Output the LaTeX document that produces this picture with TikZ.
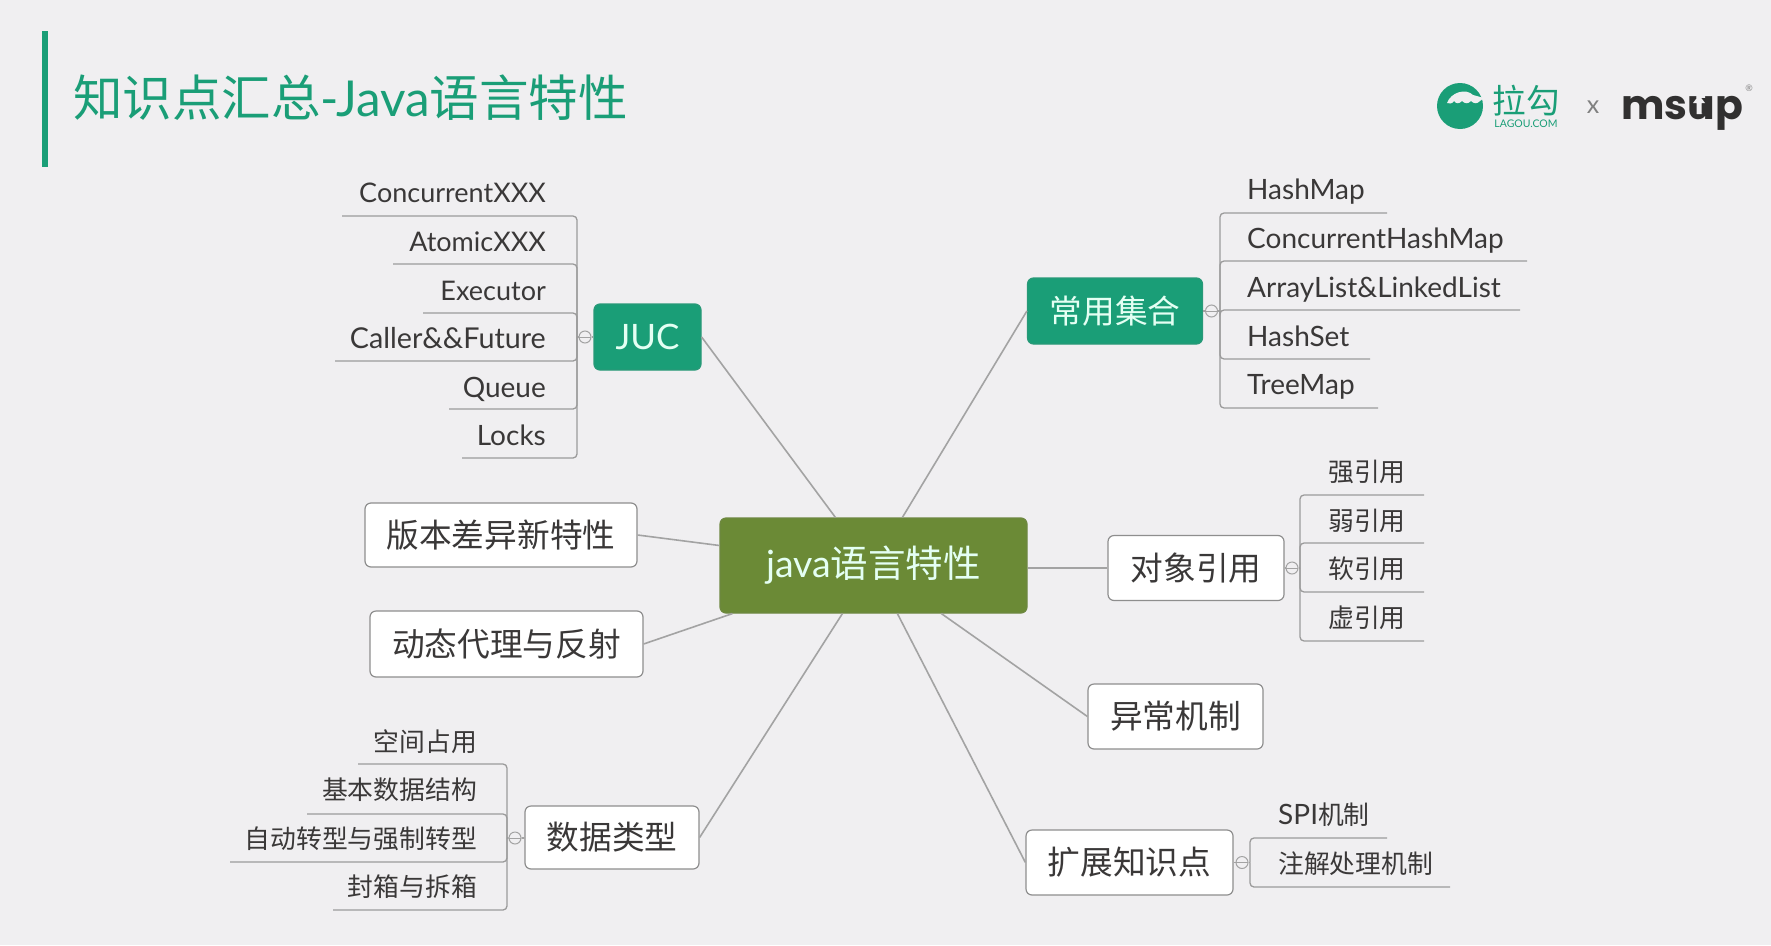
\documentclass[tikz,border=0pt]{standalone}
\usepackage{fontspec}
\usetikzlibrary{calc}
\setmainfont{Lato}
\newfontfamily\cjkf{Noto Sans CJK SC}
\newfontfamily\msupf{Poppins}[BoldFont={Poppins Bold}]
\definecolor{pagebg}{HTML}{F0EFF1}
\definecolor{lagougreen}{HTML}{1A9E77}
\definecolor{rootgreen}{HTML}{6B8A36}
\definecolor{linegray}{HTML}{9B9B9B}
\definecolor{edgegray}{HTML}{A3A3A3}
\definecolor{boxline}{HTML}{8E8E8E}
\definecolor{inkdark}{HTML}{3A3838}
\definecolor{palegreen}{HTML}{E4FFF3}
\tikzset{
  box/.style={draw=boxline,line width=1.2pt,rounded corners=6pt,inner sep=0pt,font=\fontsize{32.7}{35}\cjkf,text=inkdark},
  plainbox/.style={box,fill=white},
  greenbox/.style={box,fill=lagougreen,draw=lagougreen!85!gray,text=palegreen},
  rootbox/.style={box,fill=rootgreen,draw=rootgreen!85!gray,text=palegreen},
  leaf/.style={inner sep=0pt,text=inkdark,font=\fontsize{28}{30}\selectfont},
  leafx/.style={leaf,font=\fontsize{27}{30}\selectfont},
  leafcjk/.style={leaf,font=\fontsize{25.8}{28}\cjkf},
  branch/.style={draw=linegray,line width=1.3pt,rounded corners=4pt},
  edge/.style={draw=edgegray,line width=1.6pt},
  fold/.style={circle,draw=edgegray,fill=pagebg,line width=1pt,minimum size=12pt,inner sep=0pt,
    path picture={\draw[edgegray,line width=.8pt] (path picture bounding box.west) -- (path picture bounding box.east);}},
}
\newcommand{\Lbranch}[4]{% bus, left x, line y, name
  \coordinate (#4) at (#2,#3); \draw[branch] (#4) -- (#4 -| #1) -- (#1);}
\begin{document}
\begin{tikzpicture}[x=1pt,y=-1pt]
\fill[pagebg] (0,0) rectangle (1771,945);
\useasboundingbox (0,0) rectangle (1771,945);
% title
\fill[lagougreen] (42,31) rectangle (48,167);
\node[anchor=west,inner sep=0pt,text=lagougreen,font=\fontsize{49.5}{52}\selectfont] (title) at (73,98) {{\cjkf 知识点汇总}-Java{\cjkf 语言特性}};
% logo
\fill[lagougreen] (1460,106) circle (23);
\fill[pagebg] (1447,103) .. controls (1451,92) and (1466,88) .. (1473,95) -- (1484,98) -- (1480,101)
  .. controls (1477,104) and (1474,104) .. (1471,101) .. controls (1468,104) and (1465,104) .. (1462,101)
  .. controls (1459,104) and (1456,104) .. (1454,101) .. controls (1452,104) and (1449,104) .. (1447,103) -- cycle;
\node[inner sep=0pt,text=lagougreen,font=\fontsize{33.5}{35}\cjkf] (lg) at (1526,101) {拉勾};
\node[inner sep=0pt,text=lagougreen,font=\fontsize{10.5}{11}\selectfont] (lgsub) at (1526,124) {LAGOU.COM};
\node[inner sep=0pt,text=gray,font=\fontsize{25}{26}\selectfont] (times) at (1593,107) {x};
\node[anchor=base,inner sep=0pt,text=inkdark!85!black,font=\fontsize{41}{43}\msupf\bfseries] (ms) at (1682,119) {msup};
\fill[inkdark!85!black] (1692,98) rectangle (1706,113);
\fill[pagebg] (1699,95) -- (1705,103) -- (1701.5,103) -- (1701.5,114) -- (1696.5,114) -- (1696.5,103) -- (1693,103) -- cycle;
\node[inner sep=0pt,text=gray,font=\fontsize{9}{10}\selectfont] (reg) at (1749,88) {®};
% central
\node[rootbox,minimum width=307pt,minimum height=95pt,font=\fontsize{37.5}{39}\selectfont] (root) at (873.5,565.5) {java{\cjkf 语言特性}};
% JUC
\node[greenbox,minimum width=107pt,minimum height=66pt,font=\fontsize{35}{37}\selectfont] (juc) at (647.5,337) {JUC};
\node[fold] (jf) at (585,337) {};
\coordinate (jb) at (577,337);
\draw[edge] (jb) -- (jf) -- (juc);
\Lbranch{jb}{342}{216}{j1}\Lbranch{jb}{393}{264}{j2}\Lbranch{jb}{423}{313}{j3}
\Lbranch{jb}{335}{361}{j4}\Lbranch{jb}{449}{409}{j5}\Lbranch{jb}{462}{458}{j6}
\node[leafx,anchor=base east] (jt1) at (546,202) {ConcurrentXXX};
\node[leafx,anchor=base east] (jt2) at (546,251) {AtomicXXX};
\node[leafx,anchor=base east] (jt3) at (546,300) {Executor};
\node[leaf,font=\fontsize{28.7}{30}\selectfont,anchor=base east] (jt4) at (546,348) {Caller\&\&Future};
\node[leaf,anchor=base east] (jt5) at (546,397) {Queue};
\node[leaf,anchor=base east] (jt6) at (546,445) {Locks};
% collections
\node[greenbox,minimum width=175pt,minimum height=66pt] (col) at (1115,311) {常用集合};
\node[fold] (cf) at (1211.5,311) {};
\coordinate (cb) at (1220,311);
\draw[edge] (col) -- (cf) -- (cb);
\Lbranch{cb}{1387}{213}{c1}\Lbranch{cb}{1527}{261}{c2}\Lbranch{cb}{1520}{310}{c3}
\Lbranch{cb}{1370}{359}{c4}\Lbranch{cb}{1378}{408}{c5}
\node[leaf,anchor=base west] (ct1) at (1247,199) {HashMap};
\node[leaf,anchor=base west] (ct2) at (1247,248) {ConcurrentHashMap};
\node[leaf,anchor=base west] (ct3) at (1247,297) {ArrayList\&LinkedList};
\node[leaf,anchor=base west] (ct4) at (1247,346) {HashSet};
\node[leaf,anchor=base west] (ct5) at (1247,394) {TreeMap};
% plain boxes
\node[plainbox,minimum width=272pt,minimum height=64pt] (ver) at (501,535) {版本差异新特性};
\node[plainbox,minimum width=273pt,minimum height=66pt] (dyn) at (506.5,644) {动态代理与反射};
\node[plainbox,minimum width=175pt,minimum height=65pt] (exc) at (1175.5,716.5) {异常机制};
% references
\node[plainbox,minimum width=176pt,minimum height=65pt] (ref) at (1196,568) {对象引用};
\node[fold] (rf) at (1292,568) {};
\coordinate (rb) at (1300,568);
\draw[edge] (ref) -- (rf) -- (rb);
\Lbranch{rb}{1424}{495}{r1}\Lbranch{rb}{1424}{543}{r2}\Lbranch{rb}{1424}{592}{r3}\Lbranch{rb}{1424}{641}{r4}
\node[leafcjk,anchor=base west] (rt1) at (1328,481) {强引用};
\node[leafcjk,anchor=base west] (rt2) at (1328,530) {弱引用};
\node[leafcjk,anchor=base west] (rt3) at (1328,578) {软引用};
\node[leafcjk,anchor=base west] (rt4) at (1328,627) {虚引用};
% extensions
\node[plainbox,minimum width=207pt,minimum height=65pt] (ext) at (1129.5,862.5) {扩展知识点};
\node[fold] (ef) at (1242,862.5) {};
\coordinate (eb) at (1250,862.5);
\draw[edge] (ext) -- (ef) -- (eb);
\Lbranch{eb}{1387}{838}{e1}\Lbranch{eb}{1450}{887}{e2}
\node[leaf,anchor=base west] (et1) at (1278,824) {SPI{\cjkf\fontsize{25.8}{28}\selectfont 机制}};
\node[leafcjk,anchor=base west] (et2) at (1278,873) {注解处理机制};
% data types
\node[plainbox,minimum width=174pt,minimum height=63pt] (dat) at (612,837.5) {数据类型};
\node[fold] (df) at (515,838) {};
\coordinate (db) at (507,838);
\draw[edge] (db) -- (df) -- (dat);
\Lbranch{db}{358}{764}{d1}\Lbranch{db}{307}{814}{d2}\Lbranch{db}{230}{862}{d3}\Lbranch{db}{333}{910}{d4}
\node[leafcjk,anchor=base east] (dt1) at (477,751) {空间占用};
\node[leafcjk,anchor=base east] (dt2) at (477,799) {基本数据结构};
\node[leafcjk,anchor=base east] (dt3) at (477,848) {自动转型与强制转型};
\node[leafcjk,anchor=base east] (dt4) at (477,896) {封箱与拆箱};
% spokes
\draw[edge] (juc.east) -- ($(root.north west)+(116,0)$);
\draw[edge] (col.west) -- ($(root.north west)+(183,0)$);
\draw[edge] (ver.east) -- ($(root.west)+(0,-20)$);
\draw[edge] (dyn.east) -- ($(root.south west)+(13,0)$);
\draw[edge] (dat.east) -- ($(root.south west)+(123,0)$);
\draw[edge] (ref.west) -- (root.east |- ref.west);
\draw[edge] (exc.west) -- ($(root.south west)+(222,0)$);
\draw[edge] (ext.west) -- ($(root.south west)+(178,0)$);
\end{tikzpicture}
\end{document}
